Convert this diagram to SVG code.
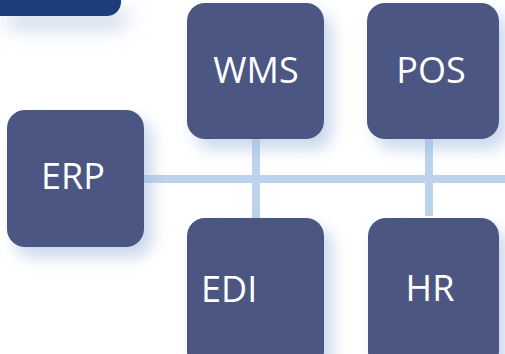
<svg xmlns="http://www.w3.org/2000/svg" width="505" height="354" viewBox="0 0 505 354">
  <defs>
    <filter id="sh" x="-30%" y="-30%" width="170%" height="170%">
      <feDropShadow dx="8" dy="10" stdDeviation="8" flood-color="#9fb6dc" flood-opacity="0.55"/>
    </filter>
    <filter id="sh2" x="-30%" y="-50%" width="170%" height="400%">
      <feDropShadow dx="8" dy="12" stdDeviation="10" flood-color="#9fb6dc" flood-opacity="0.6"/>
    </filter>
  </defs>
  <style>
    .box { fill: #4b5683; filter: url(#sh); }
    .lbl { fill: #ffffff; font-family: "Open Sans", "Liberation Sans", sans-serif; font-size: 36px; }
    .con { stroke: #bdd2ec; stroke-width: 8; fill: none; }
  </style>
  <rect width="505" height="354" fill="#ffffff"/>
  <g id="header">
    <path d="M0,0 H121 V2 A14,14 0 0 1 107,16 H0 Z" fill="#1f3c7a" filter="url(#sh2)"/>
  </g>
  <g id="connectors">
    <line class="con" x1="144" y1="179" x2="505" y2="179"/>
    <line class="con" x1="256" y1="138" x2="256" y2="218"/>
    <line class="con" x1="429" y1="138" x2="429" y2="216"/>
    <line x1="265.5" y1="352" x2="265.5" y2="354" stroke="#7d95c8" stroke-width="5"/>
  </g>
  <g id="erp">
    <rect class="box" x="7" y="110" width="137" height="137" rx="18"/>
    <text class="lbl" x="73" y="189" text-anchor="middle">ERP</text>
  </g>
  <g id="wms">
    <rect class="box" x="187" y="3" width="137" height="136" rx="18"/>
    <text class="lbl" x="256" y="83" text-anchor="middle">WMS</text>
  </g>
  <g id="pos">
    <rect class="box" x="367" y="3" width="132" height="136" rx="18"/>
    <text class="lbl" x="431" y="83" text-anchor="middle">POS</text>
  </g>
  <g id="edi">
    <rect class="box" x="187" y="218" width="137" height="152" rx="18"/>
    <text class="lbl" x="201" y="302">EDI</text>
  </g>
  <g id="hr">
    <rect class="box" x="368" y="218" width="131" height="152" rx="18"/>
    <text class="lbl" x="430" y="301" text-anchor="middle">HR</text>
  </g>
</svg>
